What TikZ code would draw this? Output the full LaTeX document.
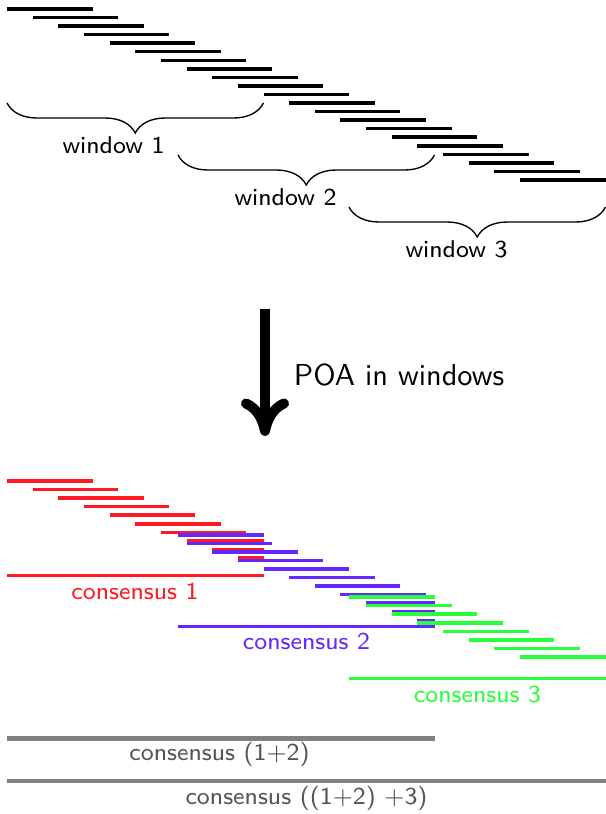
\documentclass[tikz,border=0pt]{standalone}
\usetikzlibrary{decorations.pathreplacing,arrows.meta}
\definecolor{wred}{RGB}{255,25,35}
\definecolor{wviolet}{RGB}{100,40,255}
\definecolor{wgreen}{RGB}{40,255,60}
\definecolor{mergegray}{RGB}{128,128,128}
\definecolor{mergetext}{RGB}{85,85,85}
\begin{document}
\begin{tikzpicture}[
  x=0.333pt, y=-0.333pt,
  read/.style={line width=1.17pt},
  merged/.style={line width=1.65pt, mergegray},
  lbl/.style={font=\fontsize{8.1}{10}\sffamily, inner sep=0pt},
  winbrace/.style={decorate, decoration={brace, amplitude=10pt, mirror}, line width=0.45pt},
]
\useasboundingbox (0,0) rectangle (605,814);
% read length, shift between reads, vertical spacing
\def\rl{85.5}
\def\rs{25.65}
\def\rdy{8.55}

% --- reads tiled along the sequence
\foreach \i in {0,...,20}{
  \draw[read] ({7+\rs*\i},{9+\rdy*\i}) -- ++(\rl,0);
}

% --- overlapping windows
\foreach \w/\lx in {1/113.5, 2/285.5, 3/456.5}{
  \pgfmathsetmacro\wx{7+2*\rl*(\w-1)}
  \pgfmathsetmacro\wy{103+52*(\w-1)}
  \coordinate (wl\w) at (\wx,\wy);
  \coordinate (wr\w) at ({\wx+3*\rl},\wy);
  \draw[winbrace] (wl\w) -- (wr\w);
  \node[lbl] (win\w) at (\lx,{145+52*(\w-1)}) {window \w};
}

% --- POA step
\coordinate (poatop) at (265,309);
\coordinate (poabot) at (265,436);
\draw[line width=3.33pt, -{To[round,length=12.5pt,width=16pt]}] (poatop) -- (poabot);
\node[font=\fontsize{10.1}{12}\sffamily, inner sep=0pt] (poa) at (399,374.5) {POA in windows};

% --- window 1 reads (red)
\foreach \i in {0,...,9}{
  \pgfmathsetmacro\xs{7+\rs*\i}
  \pgfmathsetmacro\xe{min(\xs+\rl,263.5)}
  \draw[read, wred] (\xs,{481+\rdy*\i}) -- (\xe,{481+\rdy*\i});
}
% --- window 2 reads (violet)
\draw[read, wviolet] (178,{483.5+\rdy*6}) -- (263.5,{483.5+\rdy*6});
\foreach \i in {7,...,16}{
  \pgfmathsetmacro\xs{max(7+\rs*\i,178)}
  \pgfmathsetmacro\xe{min(7+\rs*\i+\rl,434.5)}
  \draw[read, wviolet] (\xs,{483.5+\rdy*\i}) -- (\xe,{483.5+\rdy*\i});
}
% --- window 3 reads (green)
\draw[read, wgreen] (349,{486+\rdy*13}) -- (434.5,{486+\rdy*13});
\foreach \i in {14,...,20}{
  \pgfmathsetmacro\xs{7+\rs*\i}
  \draw[read, wgreen] (\xs,{486+\rdy*\i}) -- ++(\rl,0);
}

% --- window consensus sequences
\draw[read, wred] (7,575.3) -- (263.5,575.3);
\node[lbl, text=wred] (cons1) at (135,591) {consensus 1};
\draw[read, wviolet] (178,626.7) -- (434.5,626.7);
\node[lbl, text=wviolet] (cons2) at (306.5,641.8) {consensus 2};
\draw[read, wgreen] (349,678.3) -- (605.5,678.3);
\node[lbl, text=wgreen] (cons3) at (477.5,694.5) {consensus 3};

% --- merged consensus
\draw[merged] (7,738.5) -- (434.5,738.5);
\node[lbl, text=mergetext] (m12) at (219.5,754.7) {consensus (1+2)};
\draw[merged] (7,781) -- (605.5,781);
\node[lbl, text=mergetext] (m123) at (306.5,798) {consensus ((1+2) +3)};
\end{tikzpicture}
\end{document}
